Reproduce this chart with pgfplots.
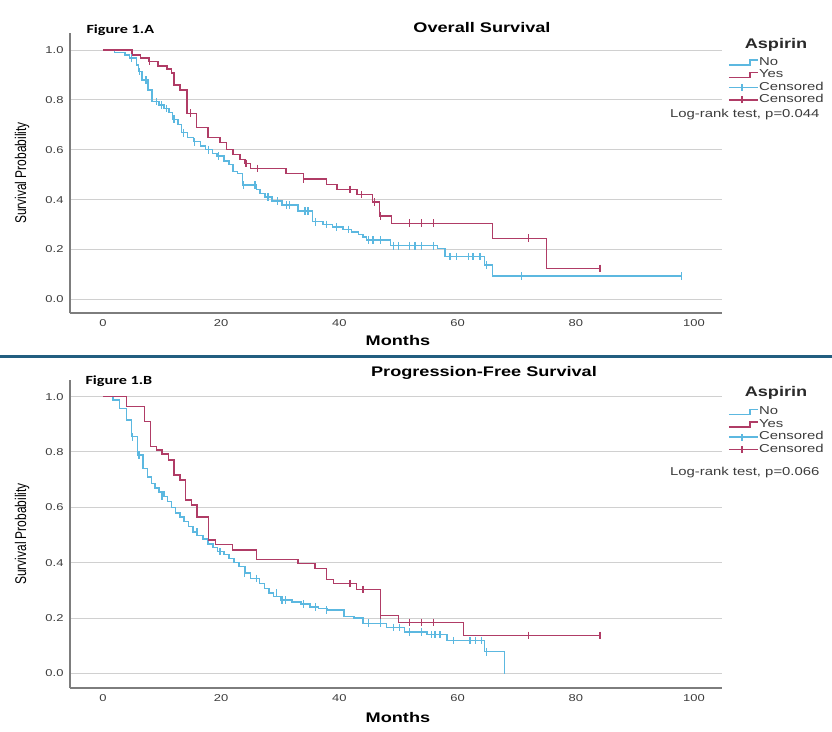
\documentclass[border=0pt]{standalone}
\usepackage{pgfplots}
\pgfplotsset{compat=1.18}
\usepackage{fontspec}
\setmainfont{Liberation Sans}[FakeStretch=1.3]
\newfontfamily\plainfont{Liberation Sans}
\newfontfamily\carlito{Carlito}[FakeStretch=1.3]
\definecolor{cblue}{RGB}{92,184,224}
\definecolor{cred}{RGB}{176,60,102}
\definecolor{cgrid}{RGB}{208,208,208}
\definecolor{caxis}{RGB}{125,125,125}
\definecolor{csep}{RGB}{34,94,128}
\definecolor{ctext}{RGB}{60,60,60}
\pgfplotsset{
  kmaxis/.style={
    scale only axis, width=652bp,
    xmin=-5.58, xmax=104.74,
    axis lines=left,
    axis line style={-, draw=caxis, line width=1.6bp},
    xtick={0,20,40,60,80,100},
    ytick={0,0.2,0.4,0.6,0.8,1.0},
    major tick length=0pt,
    ymajorgrids, grid style={draw=cgrid, line width=0.9bp},
    /pgf/number format/assume math mode=true,
    yticklabel style={/pgf/number format/fixed, /pgf/number format/fixed zerofill, /pgf/number format/precision=1},
    ticklabel style={font=\fontsize{10}{12}\selectfont, text=ctext},
    yticklabel style={/tikz/xshift=-3bp},
    xticklabel style={/tikz/yshift=-3bp},
    xlabel={\textbf{Months}},
    xlabel style={font=\fontsize{14}{16}\selectfont},
    ylabel={\scalebox{1}[1.3]{\plainfont\fontsize{12}{14}\selectfont Survival Probability}},
    ylabel style={at={(axis description cs:-0.0736,0.5)}, anchor=center},
    legend cell align=left,
    legend style={draw=none, fill=none, anchor=north west,
      font=\fontsize{11.5}{12}\selectfont, text=ctext, inner sep=0pt, row sep=0pt,
      nodes={inner sep=0.5bp, text height=8.5bp, text depth=3bp}},
  },
  kmno/.style={const plot, color=cblue, line width=1.4bp, mark=none,
    legend image code/.code={\draw[cblue, line width=1.3bp] (0bp,-2.5bp)--(21bp,-2.5bp)--(21bp,2.5bp)--(29bp,2.5bp);}},
  kmyes/.style={const plot, color=cred, line width=1.4bp, mark=none,
    legend image code/.code={\draw[cred, line width=1.3bp] (0bp,-2.5bp)--(21bp,-2.5bp)--(21bp,2.5bp)--(29bp,2.5bp);}},
  cenno/.style={only marks, color=cblue, mark=|, mark size=3.8bp, mark options={solid, line width=1.3bp},
    legend image code/.code={\draw[cblue, line width=1.3bp] (0bp,0bp)--(29bp,0bp); \draw[cblue, line width=1.3bp] (13bp,-3.5bp)--(13bp,3.5bp);}},
  cenyes/.style={only marks, color=cred, mark=|, mark size=3.8bp, mark options={solid, line width=1.3bp},
    legend image code/.code={\draw[cred, line width=1.3bp] (0bp,0bp)--(29bp,0bp); \draw[cred, line width=1.3bp] (13bp,-3.5bp)--(13bp,3.5bp);}},
}
\begin{document}
\begin{tikzpicture}
\useasboundingbox (0,0) rectangle (832bp,732bp);
% ---------------- Figure 1.A ----------------
\begin{axis}[kmaxis, at={(70bp,418.7bp)}, anchor=south west, height=280.3bp,
  ymin=-0.056, ymax=1.068,
  xlabel style={at={(axis description cs:0.503,-0.096)}, anchor=center},
  legend style={at={(axis description cs:1.0092,0.918)}}]
\addplot[kmno] coordinates {
(0,1) (2.0,0.99) (3.7,0.98) (4.5,0.967) (5.7,0.94) (6.0,0.913) (6.6,0.88) (7.6,0.84)
(8.3,0.793) (9.5,0.78) (10.3,0.765) (11.2,0.75) (11.8,0.722) (12.7,0.70) (13.3,0.668)
(14.3,0.65) (15.3,0.632) (16.5,0.615) (17.3,0.60) (18.5,0.585) (19.3,0.575) (20.5,0.555)
(21.3,0.54) (22.0,0.512) (22.8,0.505) (23.6,0.458) (26.0,0.44) (26.6,0.425) (27.4,0.41)
(28.6,0.394) (30.3,0.378) (33.0,0.355) (35.5,0.311) (37.2,0.30) (38.8,0.29) (40.6,0.28)
(42.0,0.27) (43.2,0.26) (44.0,0.25) (44.6,0.238) (48.6,0.215) (56.6,0.205) (57.9,0.171)
(64.6,0.138) (65.9,0.093) (98.0,0.093)};
\addlegendentry{No}
\addplot[kmyes] coordinates {
(0,1) (4.9,0.98) (6.3,0.967) (7.8,0.953) (9.3,0.936) (10.8,0.923) (11.6,0.907) (12.0,0.86)
(13.0,0.84) (14.2,0.746) (15.8,0.69) (17.8,0.65) (19.8,0.63) (20.9,0.60) (22.0,0.58)
(23.2,0.56) (24.0,0.545) (25.0,0.525) (31.0,0.505) (33.9,0.483) (37.8,0.461) (39.6,0.441)
(43.0,0.42) (45.6,0.39) (46.8,0.334) (48.8,0.305) (65.9,0.245) (75.0,0.124) (84.1,0.124)};
\addlegendentry{Yes}
\addplot[cenno] coordinates {
(4.8,0.967) (6.2,0.913) (7.3,0.88) (9.0,0.793) (9.9,0.78) (10.7,0.765) (12.0,0.722)
(13.6,0.668) (15.5,0.632) (17.8,0.60) (19.5,0.575) (23.8,0.458) (25.7,0.458) (27.9,0.41)
(29.5,0.394) (31.1,0.378) (31.6,0.378) (34.2,0.355) (34.7,0.355) (36.0,0.311) (37.8,0.30)
(39.5,0.29) (41.5,0.28) (44.9,0.238) (45.7,0.238) (46.9,0.238) (49.1,0.215) (50.0,0.215)
(51.9,0.215) (52.8,0.215) (53.9,0.215) (55.9,0.215) (58.7,0.171) (59.8,0.171) (61.8,0.171)
(62.6,0.171) (63.8,0.171) (64.9,0.138) (70.8,0.093) (97.9,0.093)};
\addlegendentry{Censored}
\addplot[cenyes] coordinates {
(7.9,0.953) (14.8,0.746) (24.2,0.545) (26.1,0.525) (33.9,0.483) (41.8,0.441) (43.8,0.42)
(45.9,0.39) (46.9,0.334) (51.9,0.305) (53.9,0.305) (55.9,0.305) (72.0,0.245) (84.1,0.124)};
\addlegendentry{Censored}
\end{axis}
% ---------------- Figure 1.B ----------------
\begin{axis}[kmaxis, at={(70bp,44bp)}, anchor=south west, height=308bp,
  ymin=-0.053, ymax=1.06,
  xlabel style={at={(axis description cs:0.503,-0.097)}, anchor=center},
  legend style={at={(axis description cs:1.0092,0.9166)}}]
\addplot[kmno] coordinates {
(0,1) (1.7,0.988) (2.8,0.958) (4.0,0.916) (4.8,0.855) (5.8,0.789) (6.8,0.741) (7.5,0.71)
(8.2,0.687) (8.8,0.67) (9.5,0.655) (10.3,0.64) (10.9,0.62) (11.6,0.60) (12.3,0.58)
(13.0,0.565) (13.7,0.548) (14.5,0.53) (15.2,0.51) (16.0,0.498) (16.9,0.485) (17.8,0.468)
(18.6,0.455) (19.4,0.44) (20.5,0.43) (21.3,0.415) (22.2,0.40) (23.0,0.385) (24.0,0.362)
(25.0,0.343) (26.5,0.325) (27.3,0.307) (28.1,0.29) (28.9,0.278) (30.0,0.265) (32.0,0.258)
(33.5,0.25) (35.0,0.24) (36.5,0.235) (38.0,0.229) (40.8,0.205) (42.5,0.20) (44.0,0.181)
(48.0,0.166) (51.0,0.15) (54.8,0.14) (58.2,0.118) (64.6,0.078) (67.9,0.0) (67.95,0.0)};
\addlegendentry{No}
\addplot[kmyes] coordinates {
(0,1) (4.0,0.965) (7.0,0.91) (8.0,0.82) (9.1,0.807) (10.0,0.793) (11.1,0.771) (12.0,0.717)
(13.0,0.699) (14.0,0.627) (15.0,0.608) (15.9,0.565) (17.9,0.482) (19.0,0.465) (21.9,0.446)
(26.0,0.411) (33.0,0.397) (35.9,0.378) (37.8,0.34) (39.0,0.325) (42.9,0.303) (47.0,0.209)
(50.0,0.184) (61.0,0.137) (84.1,0.137)};
\addlegendentry{Yes}
\addplot[cenno] coordinates {
(5.0,0.855) (6.1,0.789) (10.0,0.64) (15.9,0.51) (19.8,0.44) (24.0,0.362) (26.0,0.343)
(29.4,0.29) (30.3,0.265) (30.9,0.265) (33.9,0.25) (35.9,0.24) (37.8,0.229) (44.9,0.181)
(46.9,0.181) (49.1,0.166) (50.2,0.166) (51.9,0.15) (53.9,0.15) (55.6,0.14) (56.2,0.14)
(57.0,0.14) (59.3,0.118) (62.1,0.118) (63.0,0.118) (64.1,0.118) (64.9,0.078)};
\addlegendentry{Censored}
\addplot[cenyes] coordinates {
(41.8,0.325) (44.0,0.303) (47.0,0.209) (51.9,0.184) (53.9,0.184) (55.9,0.184) (72.0,0.137)
(84.1,0.137)};
\addlegendentry{Censored}
\end{axis}
% ---------------- texts and separator ----------------
\node[font=\fontsize{14}{16}\selectfont\bfseries] at (482bp,704bp) {Overall Survival};
\node[font=\fontsize{14}{16}\selectfont\bfseries] at (484bp,359bp) {Progression-Free Survival};
\node[anchor=west, font=\carlito\fontsize{12.5}{14}\selectfont\bfseries] at (83bp,702bp) {Figure 1.A};
\node[anchor=west, font=\carlito\fontsize{12.5}{14}\selectfont\bfseries] at (82bp,351bp) {Figure 1.B};
\node[font=\fontsize{14}{16}\selectfont\bfseries, text=ctext!70!black] at (776bp,687bp) {Aspirin};
\node[font=\fontsize{14}{16}\selectfont\bfseries, text=ctext!70!black] at (776bp,339bp) {Aspirin};
\node[anchor=east, font=\fontsize{11.5}{13}\selectfont, text=ctext] at (823bp,617bp) {Log-rank test, p=0.044};
\node[anchor=east, font=\fontsize{11.5}{13}\selectfont, text=ctext] at (823bp,259bp) {Log-rank test, p=0.066};
\draw[csep, line width=3bp] (0bp,375bp) -- (832bp,375bp);
\end{tikzpicture}
\end{document}
